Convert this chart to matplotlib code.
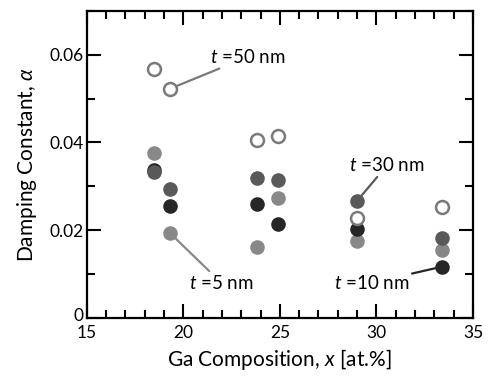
import matplotlib.pyplot as plt
import matplotlib.transforms as mtrans
from matplotlib.ticker import MultipleLocator

plt.rcParams['font.family'] = ['Lato', 'DejaVu Sans']
plt.rcParams['mathtext.fontset'] = 'custom'
plt.rcParams['mathtext.it'] = 'Lato:italic'
plt.rcParams['mathtext.rm'] = 'Lato'

# Ga composition (at.%)
ga_x = [18.5, 19.3, 23.8, 24.9, 29.0, 33.4]

# damping constant for each film thickness
alpha_5nm = [0.0376, 0.0194, 0.0162, 0.0274, 0.0176, 0.0156]
alpha_10nm = [0.0338, 0.0255, 0.0259, 0.0214, 0.0202, 0.0117]
alpha_30nm = [0.0333, 0.0295, 0.0319, 0.0314, 0.0267, 0.0183]
alpha_50nm = [0.0567, 0.0522, 0.0406, 0.0414, 0.0227, 0.0252]

fig = plt.figure(figsize=(4.91, 3.78), dpi=100)
ax = fig.add_axes([0.1766, 0.1587, 0.7867, 0.813])

ms = 10.5
ax.plot(ga_x, alpha_5nm, 'o', ms=ms, color='#888888', mec='none', zorder=3)
ax.plot(ga_x, alpha_10nm, 'o', ms=ms, color='#262626', mec='none', zorder=4)
ax.plot(ga_x, alpha_30nm, 'o', ms=ms, color='#595959', mec='none', zorder=5)
ax.plot(ga_x, alpha_50nm, 'o', ms=ms - 1.2, mfc='white', mec='#7a7a7a', mew=1.8, zorder=6)

# labels with leader lines
def tag(text, xy, xytext, color, ha='left'):
    ax.annotate(text, xy=xy, xytext=xytext, textcoords='data', fontsize=13.5,
                ha=ha, va='center', zorder=7,
                arrowprops=dict(arrowstyle='-', color=color, lw=1.6,
                                shrinkA=0, shrinkB=5))

tag(r'$t$ =50 nm', (ga_x[1], alpha_50nm[1]), (21.4, 0.0595), '#7a7a7a')
tag(r'$t$ =5 nm', (ga_x[1], alpha_5nm[1]), (20.3, 0.008), '#888888')
tag(r'$t$ =30 nm', (ga_x[4], alpha_30nm[4]), (28.6, 0.0348), '#595959')
tag(r'$t$ =10 nm', (ga_x[5], alpha_10nm[5]), (31.7, 0.008), '#262626', ha='right')

ax.set_xlim(15, 35)
ax.set_ylim(0, 0.07)
ax.xaxis.set_major_locator(MultipleLocator(5))
ax.xaxis.set_minor_locator(MultipleLocator(1))
ax.yaxis.set_major_locator(MultipleLocator(0.02))
ax.yaxis.set_minor_locator(MultipleLocator(0.01))
ax.set_yticks([0, 0.02, 0.04, 0.06])
ax.set_yticklabels(['0', '0.02', '0.04', '0.06'])

ax.tick_params(which='both', direction='in', top=True, right=True, width=1.5,
               labelsize=12.5, colors='black')
ax.tick_params(which='major', length=10)
ax.tick_params(axis='x', which='major', pad=5)
ax.tick_params(axis='y', which='major', pad=2)
ax.tick_params(which='minor', length=6)
for s in ax.spines.values():
    s.set_linewidth(1.6)

# the "0" sits a little above the axis line, just clear of the "15"
zero_lbl = ax.get_yticklabels()[0]
zero_lbl.set_transform(zero_lbl.get_transform() +
                       mtrans.ScaledTranslation(0, 4 / 100, fig.dpi_scale_trans))

ax.set_xlabel(r'Ga Composition, $x$ [at.%]', fontsize=15, labelpad=4)
ax.set_ylabel(r'Damping Constant, $\alpha$', fontsize=15, labelpad=8)

fig.savefig('out.png', dpi=100)
